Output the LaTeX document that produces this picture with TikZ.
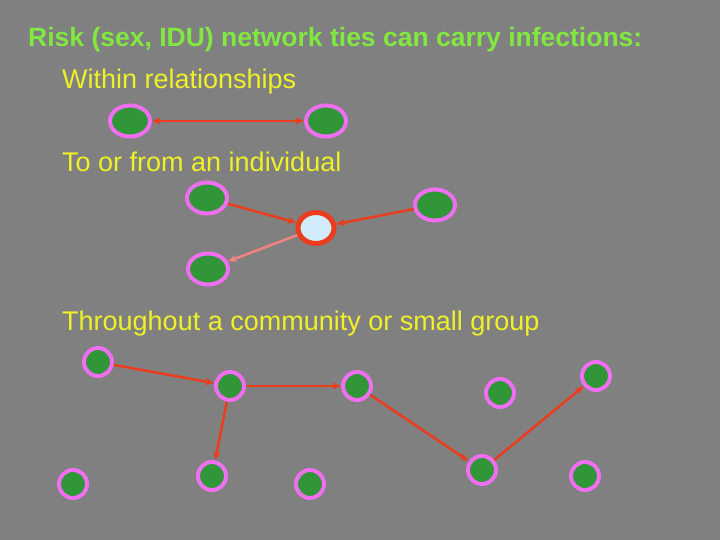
\documentclass[tikz,border=0pt]{standalone}
\usepackage{fontspec}
\setmainfont{Liberation Sans}
\usetikzlibrary{arrows.meta,shapes.geometric}
\definecolor{bg}{RGB}{128,128,128}
\definecolor{ttl}{RGB}{128,232,64}
\definecolor{sub}{RGB}{240,240,40}
\definecolor{grn}{RGB}{48,150,56}
\definecolor{pnk}{RGB}{240,110,240}
\definecolor{redl}{RGB}{236,60,30}
\definecolor{lblue}{RGB}{210,236,252}
\definecolor{salm}{RGB}{245,130,130}
\begin{document}
\begin{tikzpicture}[x=1pt,y=-1pt,
 big/.style={ellipse,draw=pnk,fill=grn,line width=4pt,minimum width=40pt,minimum height=31pt,inner sep=0pt},
 sml/.style={circle,draw=pnk,fill=grn,line width=4pt,minimum size=28pt,inner sep=0pt},
 ctr/.style={ellipse,draw=redl,fill=lblue,line width=5pt,minimum width=36pt,minimum height=31pt,inner sep=0pt},
 tie/.style={draw=redl,line width=2.5pt,-{Stealth[length=9pt,width=7pt]}},
 txt/.style={anchor=west,inner sep=0pt,font=\fontsize{27}{30}\selectfont,text=sub}]
\fill[bg] (0,0) rectangle (720,540);
\useasboundingbox (0,0) rectangle (720,540);
\node[anchor=west,inner sep=0pt,font=\fontsize{26.5}{30}\selectfont\bfseries,text=ttl] (t) at (28,40) {Risk (sex, IDU) network ties can carry infections:};
\node[txt] (s1) at (62,82) {Within relationships};
\node[txt] (s2) at (62,162) {To or from an individual};
\node[txt] (s3) at (62,324) {Throughout a community or small group};
\node[big] (a) at (130,121) {};
\node[big] (b) at (326,121) {};
\draw[tie,{Stealth[length=9pt,width=7pt]}-{Stealth[length=9pt,width=7pt]}] (a) -- (b);
\node[big] (c) at (207,198) {};
\node[ctr] (d) at (316,228) {};
\node[big] (e) at (435,205) {};
\node[big] (f) at (208,269) {};
\draw[tie] (c) -- (d);
\draw[tie] (e) -- (d);
\draw[tie,draw=salm] (d) -- (f);
\node[sml] (n1) at (98,362) {};
\node[sml] (n2) at (230,386) {};
\node[sml] (n3) at (357,386) {};
\node[sml] (n4) at (500,393) {};
\node[sml] (n5) at (596,376) {};
\node[sml] (n6) at (73,484) {};
\node[sml] (n7) at (212,476) {};
\node[sml] (n8) at (310,484) {};
\node[sml] (n9) at (482,470) {};
\node[sml] (n10) at (585,476) {};
\draw[tie] (n1) -- (n2);
\draw[tie] (n2) -- (n3);
\draw[tie] (n2) -- (n7);
\draw[tie] (n3) -- (n9);
\draw[tie] (n9) -- (n5);
\end{tikzpicture}
\end{document}
